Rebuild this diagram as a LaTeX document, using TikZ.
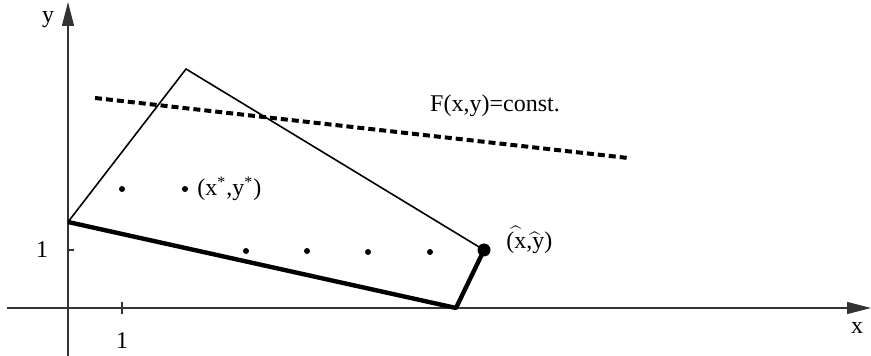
\documentclass[tikz,border=0pt]{standalone}
\usepackage{fontspec}
\setmainfont{Liberation Serif}
\usetikzlibrary{arrows.meta}
\tikzset{axis/.style={draw=black!80,line width=0.6pt,-{Triangle[length=12pt,width=6pt]}},edge/.style={line width=0.8pt},bold/.style={line width=2.2pt},level/.style={line width=2pt,dash pattern=on 3.5pt off 2pt},pt/.style={circle,fill=black,inner sep=0pt,minimum size=3pt},lab/.style={font=\fontsize{12}{14}\selectfont,inner sep=1pt}}
\begin{document}
\begin{tikzpicture}[x=0.5pt,y=-0.5pt]
\useasboundingbox (0,0) rectangle (871,356);
% axes
\coordinate (xs) at (7,308);
\coordinate (xe) at (871,308);
\coordinate (ys) at (68,356);
\coordinate (ye) at (68,2);
\draw[axis] (xs) -- (xe);
\draw[axis] (ys) -- (ye);
\node[lab] (xl) at (857,328) {x};
\node[lab] (yl) at (48,20) {y};
\draw[black!80,line width=0.6pt] (122,302) -- (122,314) (68,250) -- (74,250);
\node[lab] (x1) at (122,341) {1};
\node[lab] (y1) at (42,250) {1};
% feasible region
\coordinate (A) at (68,222);
\coordinate (B) at (186,69);
\coordinate (C) at (484,250);
\coordinate (D) at (456,308);
\draw[edge] (A) -- (B) -- (C);
\draw[bold,line join=round] (C) -- (D) -- (A);
\node[circle,fill=black,inner sep=0pt,minimum size=6.5pt] (opt) at (C) {};
\node[lab,anchor=west] (optl) at (504,240) {$\widehat{\mbox{(x}}\widehat{\mbox{,y}}$)};
% level line
\coordinate (L1) at (95,98);
\coordinate (L2) at (628,158);
\draw[level] (L1) -- (L2);
\node[lab] (Fl) at (495,106) {F(x,y)=const.};
% lattice points
\foreach \n/\p in {p1/{122,189},p2/{185,189},p3/{246,251},p4/{307,251},p5/{368,252},p6/{430,252}}{\node[pt] (\n) at (\p) {};}
\node[lab,anchor=west] (pl) at (195,189) {(x\textsuperscript{*},y\textsuperscript{*})};
\end{tikzpicture}
\end{document}
